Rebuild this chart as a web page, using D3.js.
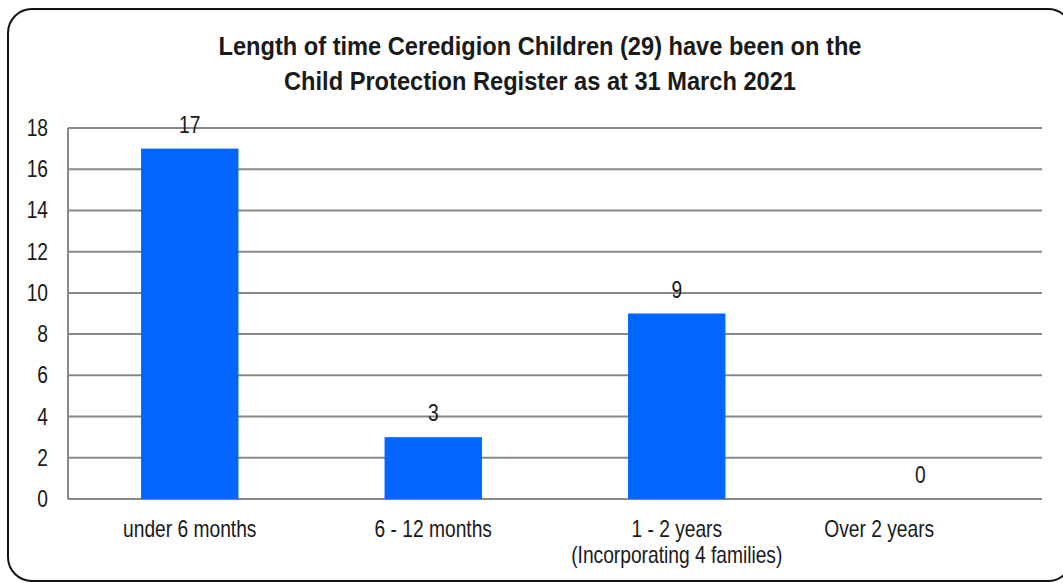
<!DOCTYPE html>
<html><head><meta charset="utf-8">
<script src="https://cdn.jsdelivr.net/npm/d3@7"></script>
<style>body{margin:0;background:#fff}svg{display:block}text{font-family:"Liberation Sans",Arial,sans-serif;fill:#1a1a1a}</style>
</head><body><svg id="c" width="1063" height="583"></svg>
<script>
const categories = ["under 6 months", "6 - 12 months", "1 - 2 years", "Over 2 years"];
const categorySublines = ["", "", "(Incorporating 4 families)", ""];
const values = [17, 3, 9, 0];
const yTicks = [0, 2, 4, 6, 8, 10, 12, 14, 16, 18];
const titleLines = ["Length of time Ceredigion Children (29) have been on the", "Child Protection Register as at 31 March 2021"];

(function () {
const svg = d3.select("#c");
svg.append("rect").attr("x", 8).attr("y", 9).attr("width", 1064).attr("height", 572)
  .attr("rx", 24).attr("fill", "#fff").attr("stroke", "#111").attr("stroke-width", 2);

const pL = 68, pR = 1042, pT = 128, pB = 499;
const x = d3.scaleBand().domain(categories).range([pL, pR]).paddingInner(0.6).paddingOuter(0.3);
const y = d3.scaleLinear().domain([0, 18]).range([pB, pT]);

function stext(g, tx, ty, s, size, anchor, weight, sx) {
  return g.append("text").attr("transform", `translate(${tx},${ty}) scale(${sx || 0.8},1)`)
    .attr("font-size", size).attr("text-anchor", anchor).attr("font-weight", weight || "normal").text(s);
}

titleLines.forEach((t, i) => stext(svg, 540, 55 + i * 35, t, 25, "middle", "bold", 0.945));

const grid = svg.append("g");
grid.selectAll("line").data(yTicks).join("line")
  .attr("x1", pL).attr("x2", pR).attr("y1", d => y(d)).attr("y2", d => y(d))
  .attr("stroke", "#888").attr("stroke-width", 2);
grid.append("line").attr("x1", pL).attr("x2", pL).attr("y1", pT).attr("y2", pB)
  .attr("stroke", "#888").attr("stroke-width", 2);

const yl = svg.append("g");
yTicks.forEach(t => stext(yl, 48, y(t) + 8, String(t), 24, "end"));

svg.append("g").selectAll("rect").data(values).join("rect")
  .attr("x", (d, i) => x(categories[i])).attr("width", x.bandwidth())
  .attr("y", d => y(d)).attr("height", d => pB - y(d))
  .attr("fill", "#0066ff");

const vl = svg.append("g");
values.forEach((v, i) => stext(vl, x(categories[i]) + x.bandwidth() / 2, y(v) - 16, String(v), 24, "middle"));

const xl = svg.append("g");
categories.forEach((c, i) => {
  const cx = x(c) + x.bandwidth() / 2 + (i === categories.length - 1 ? -41 : 0);
  stext(xl, cx, 537, c, 24, "middle");
  if (categorySublines[i]) stext(xl, cx, 563, categorySublines[i], 24, "middle");
});
})();
</script></body></html>
